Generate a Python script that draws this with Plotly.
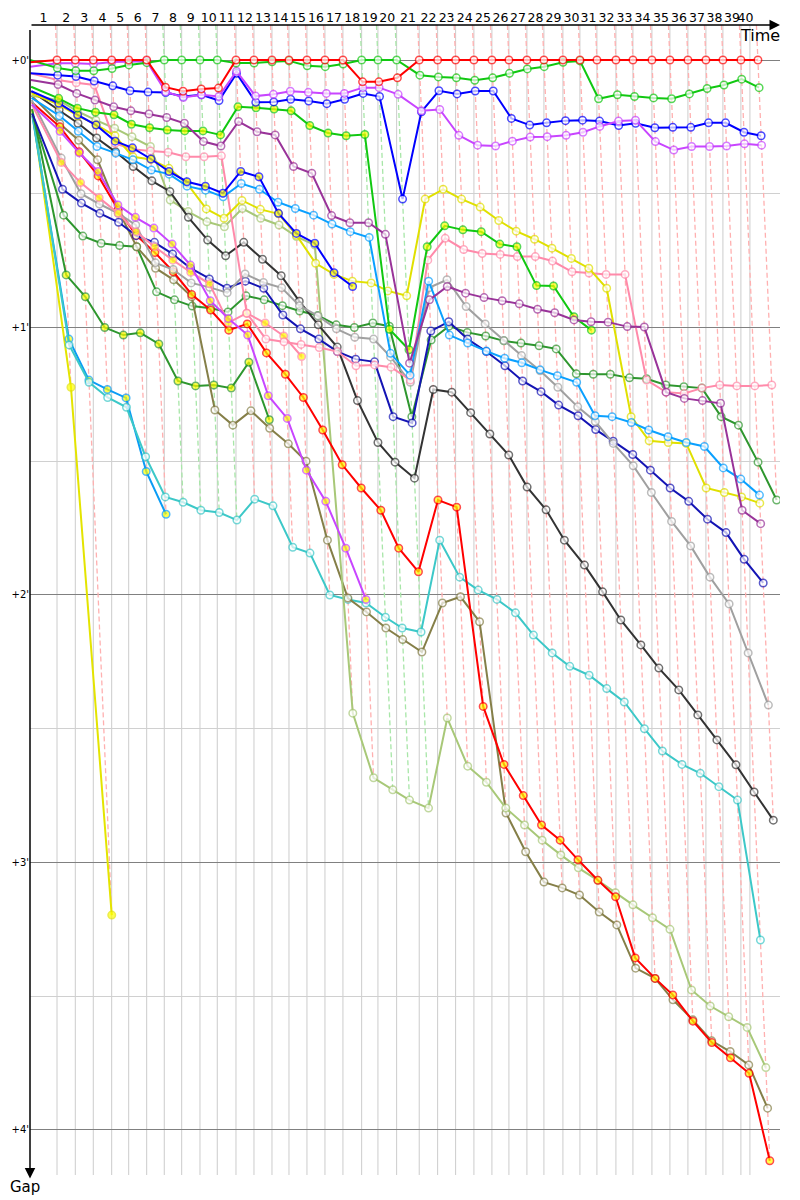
import plotly.graph_objects as go

# ---------------- data ----------------
# leader lap times in seconds (lap 1 .. 40)
leader_lap_s = [142.1, 96.3, 94.7, 96.8, 89.5, 94.7, 92.6, 91.6, 96.3, 91.1,
                98.4, 94.7, 94.7, 89.5, 94.7, 94.7, 94.7, 98.4, 85.8, 98.4,
                118.9, 96.8, 94.7, 96.3, 94.7, 89.5, 94.7, 89.5, 100.0, 89.5,
                89.5, 100.0, 89.5, 100.0, 94.7, 94.7, 94.7, 89.5, 94.7, 89.5]
race_end_s = 3789.0
lap_labels = [str(i) for i in range(1, 41)]

# gaps to leader in seconds, index 0 = start, index n = end of lap n
red_a = [0.5, 0, 0, 0, 0, 0, 0, 6.1, 7.0, 6.5, 6.3, 0, 0, 0, 0, 0, 0, 0, 4.9, 4.9, 4.0,
         0, 0, 0, 0, 0, 0, 0, 0, 0, 0, 0, 0, 0, 0, 0, 0, 0, 0, 0, 0]
green_a = [0, 1.8, 2.4, 2.4, 1.9, 1.1, 0.6, 0, 0, 0, 0, 0.7, 0.7, 0.4, 0.2, 1.3, 1.5, 0.9, 0, 0, 0,
           3.4, 3.8, 4.0, 4.55, 4.0, 3.0, 2.0, 1.5, 0.5, 0.2, 8.7, 7.8, 8.2, 8.5, 8.7, 7.6, 6.4, 5.6, 4.3, 6.2]
violet_a = [1.5, 0.75, 0.75, 0.9, 0.45, 0.45, 0.3, 7.1, 8.4, 7.8, 8.2, 2.5, 8.1, 7.7, 7.0, 7.25, 7.5, 7.5,
            6.2, 6.2, 7.7, 11.4, 11.1, 16.9, 19.1, 19.3, 18.2, 17.3, 17.2, 16.9, 16.2,
            14.9, 13.7, 13.5, 18.3, 20.2, 19.4, 19.4, 19.3, 18.8, 19.1]
blue_a = [3, 3.4, 3.7, 4.7, 5.8, 6.9, 7.2, 7.3, 8.2, 7.8, 9.1, 3.0, 9.5, 9.4, 8.8, 9.2, 9.8, 8.8,
          7.5, 8.2, 31.2, 11.6, 6.9, 7.6, 6.95, 6.95, 13.1, 14.6, 14.1, 13.6, 13.5,
          13.7, 14.7, 14.2, 15.2, 15.1, 15.1, 14.1, 14.1, 16.2, 17.0]
purple_a = [4.5, 5.5, 7.5, 9, 10.5, 11.4, 12.1, 12.9, 14.2, 18.3, 19.3, 13.8, 16.1, 16.8, 23.9, 25.4, 34.9, 36.5,
            36.5, 39.1, 68, 53.8, 50.8, 52.3, 53.3, 54, 54.7, 55.9, 56.7, 58.3, 58.7,
            58.8, 59.8, 59.9, 74.5, 75.9, 76.4, 77, 101, 104]
pink_a = [3, 4.5, 5.1, 5.6, 18.7, 20, 20.4, 20.7, 21.7, 21.7, 21.5, 56.8, 62.6, 63.2, 63.8, 64.5, 65.4, 68.6,
          68.4, 68.9, 71.8, 44.9, 40, 42.5, 43.4, 43.6, 44.1, 44.1, 45.1, 47.5, 47.8,
          48.1, 48.1, 71.8, 74.5, 74.8, 73.6, 72.9, 73.1, 73.1, 72.9]
green_b = [6, 8.6, 10.8, 11.7, 12.3, 14.4, 15.2, 15.7, 15.9, 15.9, 16.8, 10.5, 10.7, 11, 11.4, 14.7, 16.4, 17,
           16.7, 60.4, 65, 41.9, 37.2, 38.1, 38.5, 41.3, 41.9, 50.6, 50.7, 57.6, 60.6]
blue_b = [7, 9.7, 12.3, 14.6, 18.2, 19.7, 22.2, 25, 27.3, 28.3, 29.9, 25, 26.2, 34.4, 38.9, 41.1, 47.7, 50.8]
skyblue_a = [8.5, 12.5, 16, 19.4, 20.9, 22.4, 24.7, 25.6, 28.3, 29.2, 30.7, 27.7, 29, 31.9, 33.3, 34.8, 36.8, 38.5,
             39.8, 65.8, 70.7, 49.6, 61.7, 63.5, 65.3, 66.9, 67.9, 69.5, 70.8, 72.3, 79.8,
             80, 81.3, 83, 84.5, 85.8, 86.7, 91.5, 94, 97.6]
yellow_a = [7.5, 10, 12.5, 14.5, 17, 21.7, 22.3, 24.3, 27.7, 33.4, 35.5, 31.5, 33.5, 34.5, 39.3, 45.6, 48.1, 49.6,
            50, 51.8, 52.9, 31.2, 29, 31.2, 33, 36, 38.4, 40.2, 42.2, 44.5, 46.7,
            51.2, 80, 85.4, 85.8, 86, 96, 97, 98, 99.4]
gray_a = [9, 22, 30, 32.3, 34.4, 37, 45.5, 47, 50, 51, 52.2, 48, 49.9, 51.1, 55.1, 57.4, 60.3, 62.2,
          62.6, 66.6, 72.3, 51.1, 49.3, 55.3, 59.2, 62.9, 66.3, 69.7, 73.4, 77.8, 81.1,
          86, 91, 97, 103.5, 109, 116, 122, 133, 144.7]
black_a = [7, 11.2, 14.2, 17.5, 20.6, 23.9, 27.1, 29.5, 35.3, 40.4, 43.9, 40.9, 44.7, 48.4, 54.1, 59.4, 64.4, 76.4,
           85.8, 90.2, 93.8, 73.9, 74.5, 79.1, 83.9, 88.6, 95.8, 100.9, 107.7, 113.3, 119.3,
           125.6, 131.2, 136.4, 141.3, 146.9, 152.5, 158.1, 164.2, 170.5]
navy_a = [12, 29, 32.1, 34.4, 36.4, 39.4, 40.9, 43.5, 46.7, 49.1, 51.2, 49.6, 51.2, 57.2, 60.3, 62.6, 65.4, 67.1,
          67.7, 80, 81.4, 60.8, 58.7, 62.6, 65.4, 68.6, 72, 74.4, 77.4, 79.8, 82.9,
          85.5, 88.5, 92, 96, 99, 103, 106, 112, 117.3]
fgreen_a = [12, 34.8, 39.5, 41.1, 41.6, 41.9, 52, 53.8, 55.2, 55.7, 56.5, 52.9, 53.8, 55.1, 56.3, 57.3, 59.4, 60,
            59, 59.7, 80, 62.8, 59.7, 61.1, 61.9, 63, 63.5, 64.1, 64.8, 70.4, 70.5,
            70.5, 71.3, 71.5, 72.9, 73.3, 73.6, 80, 81.9, 90.2, 98.7]
fgreen_b = [11, 48.2, 53.1, 60, 61.7, 61.2, 63.7, 72, 73.1, 72.9, 73.6, 67.8, 80.7]
skyblue_b = [12.5, 62.6, 71.8, 73.9, 75.8, 92.3, 101.9]
turq_a = [12, 63.9, 72.3, 75.7, 77.9, 89, 98, 99.2, 101, 101.5, 103.2, 98.5, 100, 109.3, 110.6, 120, 121, 121.8,
          125, 127.4, 128.3, 107.7, 116, 118.9, 121, 124, 129, 133, 136, 138, 141,
          144, 150, 155, 158, 160, 163, 166, 197.4]
yellow_b = [11, 73.4, 191.8]
violet_b = [10, 16, 20.8, 25, 32.5, 35.3, 37.7, 41.3, 46, 54, 58, 61.7, 75.3, 80.4, 92, 99, 109.5, 121]
pink_b = [10, 23, 27.5, 30.9, 34.4, 38.5, 41.9, 44.9, 47.6, 50.2, 58.9, 56.8, 59, 61.9, 66.5]
red_b = [9.5, 15, 20.6, 26, 33.6, 39.3, 43.2, 47.5, 52.6, 56.1, 60.6, 59.2, 65.7, 70.5, 75.7, 83, 90.8, 96,
         101, 109.5, 114.8, 98.7, 100.3, 145, 158, 165, 171.6, 175, 179.4, 184, 187.7,
         201.4, 206, 209.7, 215.6, 220.4, 223.8, 227.3, 246.9]
ygreen_a = [8, 9, 11.5, 13.5, 15.3, 17.2, 19.4, 31.4, 34, 36.3, 37.4, 33.3, 35.5, 37, 39.6, 41.5, 146.5, 161,
            163.7, 166, 167.8, 147.6, 158.4, 162, 167.8, 171.6, 175, 178.3, 181.2, 184, 186.8,
            189.5, 192.4, 195, 208.6, 212.2, 214.6, 217, 226]
olive_a = [8, 14.3, 18, 22.4, 33.6, 41.9, 46.7, 49.3, 53.1, 78.5, 81.9, 78.7, 82.6, 86.1, 90, 107.7, 120.7, 123.8,
           127.4, 130, 132.8, 121.8, 120.4, 126, 168.9, 177.6, 184.4, 185.7, 187.3, 191.1, 194,
           203.7, 206, 210.8, 215.3, 220, 222.4, 225.4, 235.1]

WHITE = "#ffffff"
YEL = "#ffff00"
drivers = [
    # (gaps, line colour, marker fill, dashed-lap-line colour when leading)
    (yellow_b, "#e4e400", YEL, None),
    (skyblue_b, "#0a9cf5", YEL, None),
    (turq_a, "#3cc8c8", WHITE, None),
    (fgreen_b, "#2e962e", YEL, None),
    (fgreen_a, "#2e962e", WHITE, None),
    (olive_a, "#857f48", WHITE, None),
    (ygreen_a, "#a8c878", WHITE, None),
    (red_b, "#ff0000", YEL, None),
    (navy_a, "#1414b4", WHITE, None),
    (black_a, "#333333", WHITE, None),
    (gray_a, "#a0a0a0", WHITE, None),
    (pink_b, "#ff8aaa", YEL, None),
    (pink_a, "#ff8aaa", WHITE, None),
    (violet_b, "#c845ff", YEL, None),
    (yellow_a, "#e0e000", WHITE, None),
    (skyblue_a, "#0aa0ff", WHITE, None),
    (blue_b, "#0000ff", YEL, None),
    (green_b, "#11c811", YEL, None),
    (purple_a, "#993399", WHITE, None),
    (blue_a, "#0000ff", WHITE, None),
    (violet_a, "#c845ff", WHITE, None),
    (green_a, "#11c811", WHITE, "#a8e6a8"),
    (red_a, "#ff0000", WHITE, "#ffb0b0"),
]

# ---------------- derived positions ----------------
leader_t = [0.0]
for lt in leader_lap_s:
    leader_t.append(leader_t[-1] + lt)

PX_PER_S_X = 0.19          # horizontal scale (px per second)
PLOT_W = 750
X_MAX = PLOT_W / PX_PER_S_X
Y_TOP, Y_BOT = -7.85, 250.1

fig = go.Figure()

# dashed lap lines (one per lap, through every car's crossing of that lap)
n_laps = len(leader_lap_s)
for lap in range(1, n_laps + 1):
    gaps_here = [d[0][lap] for d in drivers if len(d[0]) > lap]
    maxg = max(gaps_here)
    lead_col = "#ffb0b0"
    best = None
    for d in drivers:
        if len(d[0]) > lap and d[3] is not None:
            if best is None or d[0][lap] < best[0]:
                best = (d[0][lap], d[3])
    if best is not None:
        lead_col = best[1]
    t = leader_t[lap]
    fig.add_trace(go.Scatter(x=[t + Y_TOP, t + maxg], y=[Y_TOP, maxg], mode="lines",
                             line=dict(color=lead_col, width=1.3, dash="5px,3px"),
                             hoverinfo="skip"))

# vertical grid lines at the leader's lap crossings
grid_t = leader_t[1:-1] + [race_end_s]
for gt in grid_t:
    fig.add_shape(type="line", x0=gt, x1=gt, y0=0, y1=1, xref="x", yref="paper",
                  line=dict(color="#cccccc", width=1), layer="below")

# cars
for gaps, col, fill, _ in drivers:
    xs = [leader_t[i] + g for i, g in enumerate(gaps)]
    sizes = [0] + [7.5] * (len(gaps) - 1)
    fig.add_trace(go.Scatter(x=xs, y=gaps, mode="lines+markers",
                             line=dict(color=col, width=2),
                             marker=dict(size=sizes, color=fill, line=dict(color=col, width=1.5)),
                             hoverinfo="skip"))

# lap labels between grid lines
bounds = [0.0] + grid_t
mids = [(bounds[i] + bounds[i + 1]) / 2 for i in range(len(bounds) - 1)]

# the page body adds an 8px offset, so margins are reduced by 8px on the left/top
fig.update_layout(
    width=800, height=1200, margin=dict(l=22, r=28, t=17, b=33),
    plot_bgcolor="white", paper_bgcolor="white", showlegend=False,
    font=dict(family="DejaVu Sans", color="black"),
    xaxis=dict(range=[0, X_MAX], side="top", tickvals=mids, ticktext=lap_labels,
               tickangle=0, showgrid=False, zeroline=False, showline=False, ticks="",
               automargin=False, ticklabelstandoff=0,
               tickfont=dict(size=12.5, family="DejaVu Sans", color="black")),
    yaxis=dict(range=[Y_BOT, Y_TOP], tickvals=[0, 60, 120, 180, 240],
               ticktext=["+0'", "+1'", "+2'", "+3'", "+4'"], automargin=False,
               showgrid=True, gridcolor="#808080", gridwidth=1, zeroline=False, ticks="",
               showline=False, tickfont=dict(size=10, family="DejaVu Sans", color="black"),
               minor=dict(tickvals=[30, 90, 150, 210], showgrid=True, gridcolor="#d0d0d0", gridwidth=1)),
)

# axis arrows
fig.add_annotation(x=1, y=1, xref="paper", yref="paper", ax=-750, ay=0, text="",
                   showarrow=True, arrowhead=2, arrowsize=1.4, arrowwidth=1.5, arrowcolor="black")
fig.add_annotation(x=0, y=-0.003, xref="paper", yref="paper", ax=0, ay=-1150, text="",
                   showarrow=True, arrowhead=2, arrowsize=1.4, arrowwidth=1.5, arrowcolor="black")
fig.add_annotation(x=0.973, y=0.991, xref="paper", yref="paper", text="Time", showarrow=False,
                   xanchor="center", yanchor="middle", font=dict(size=16, color="black"))
fig.add_annotation(x=-0.0067, y=-0.0105, xref="paper", yref="paper", text="Gap", showarrow=False,
                   xanchor="center", yanchor="middle", font=dict(size=15, color="black"))

fig.write_html("out.html")
